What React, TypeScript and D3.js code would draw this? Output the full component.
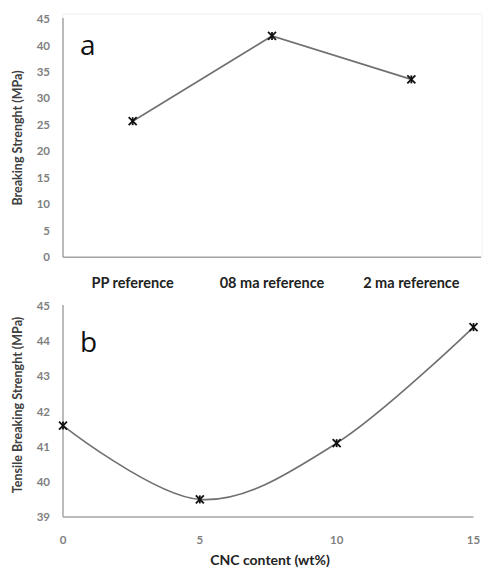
import React from "react";
import * as d3 from "d3";

const categoriesA = ["PP reference", "08 ma reference", "2 ma reference"];
const valuesA = [25.7, 41.8, 33.6];
const ticksA = [0, 5, 10, 15, 20, 25, 30, 35, 40, 45];

const cncContent = [0, 5, 10, 15];
const valuesB = [41.6, 39.5, 41.1, 44.4];
const ticksBY = [39, 40, 41, 42, 43, 44, 45];
const ticksBX = [0, 5, 10, 15];

const FONT = "Lato, 'Open Sans', sans-serif";

function Star({ x, y }: { x: number; y: number }) {
  const s = 4;
  return (
    <g stroke="#111" strokeWidth={1.8}>
      <line x1={x - s} y1={y - s} x2={x + s} y2={y + s} />
      <line x1={x - s} y1={y + s} x2={x + s} y2={y - s} />
      <line x1={x} y1={y - s} x2={x} y2={y + s} />
    </g>
  );
}

export default function App() {
  // Chart a
  const xA = d3.scaleBand<string>().domain(categoriesA).range([63, 481]);
  const yA = d3.scaleLinear().domain([0, 45]).range([257.3, 19]);
  const lineA = d3
    .line<number>()
    .x((_, i) => (xA(categoriesA[i]) as number) + xA.bandwidth() / 2)
    .y((d) => yA(d));

  // Chart b
  const xB = d3.scaleLinear().domain([0, 15]).range([63, 473.5]);
  const yB = d3.scaleLinear().domain([39, 45]).range([517, 306]);
  const lineB = d3
    .line<number>()
    .x((_, i) => xB(cncContent[i]))
    .y((d) => yB(d))
    .curve(d3.curveCatmullRom.alpha(0));

  return (
    <svg
      width={486}
      height={569}
      style={{ position: "absolute", left: 0, top: 0, background: "#fff" }}
      fontFamily={FONT}
    >
      <rect x={0} y={0} width={486} height={569} fill="#fff" />
      {/* Chart a */}
      <rect x={63} y={14} width={419} height={243} fill="none" stroke="#f0f0f0" strokeWidth={1} />
      <line x1={63} y1={18} x2={63} y2={257.3} stroke="#a6a6a6" strokeWidth={1.5} />
      <line x1={63} y1={257.3} x2={481} y2={257.3} stroke="#a6a6a6" strokeWidth={1.5} />
      {ticksA.map((t) => (
        <text key={t} x={50} y={yA(t)} dy="0.35em" textAnchor="end" fontSize={11.5} fontWeight={700} fill="#808080">
          {t}
        </text>
      ))}
      {categoriesA.map((c) => (
        <text
          key={c}
          x={(xA(c) as number) + xA.bandwidth() / 2}
          y={283}
          dy="0.35em"
          textAnchor="middle"
          fontSize={14.5}
          fontWeight={700}
          fill="#222"
        >
          {c}
        </text>
      ))}
      <text
        transform={`translate(18,138) rotate(-90)`}
        textAnchor="middle"
        dy="0.35em"
        fontSize={12.5}
        fontWeight={700}
        fill="#404040"
      >
        Breaking Strenght (MPa)
      </text>
      <text x={80} y={55} fontSize={28} fill="#111" fontFamily="'Open Sans', sans-serif">
        a
      </text>
      <path d={lineA(valuesA) || ""} fill="none" stroke="#707070" strokeWidth={1.6} />
      {valuesA.map((v, i) => (
        <Star key={i} x={(xA(categoriesA[i]) as number) + xA.bandwidth() / 2} y={yA(v)} />
      ))}

      {/* Chart b */}
      <line x1={63} y1={305} x2={63} y2={517} stroke="#a6a6a6" strokeWidth={1.5} />
      <line x1={63} y1={517} x2={473.5} y2={517} stroke="#a6a6a6" strokeWidth={1.5} />
      {ticksBY.map((t) => (
        <text key={t} x={50} y={yB(t)} dy="0.35em" textAnchor="end" fontSize={11.5} fontWeight={700} fill="#808080">
          {t}
        </text>
      ))}
      {ticksBX.map((t) => (
        <text key={t} x={xB(t)} y={540} dy="0.35em" textAnchor="middle" fontSize={11.5} fontWeight={700} fill="#808080">
          {t}
        </text>
      ))}
      <text x={270} y={565} textAnchor="middle" fontSize={14} fontWeight={700} fill="#222">
        CNC content (wt%)
      </text>
      <text
        transform={`translate(18,405) rotate(-90)`}
        textAnchor="middle"
        dy="0.35em"
        fontSize={12.5}
        fontWeight={700}
        fill="#404040"
      >
        Tensile Breaking Strenght (MPa)
      </text>
      <text x={80} y={352} fontSize={28} fill="#111" fontFamily="'Open Sans', sans-serif">
        b
      </text>
      <path d={lineB(valuesB) || ""} fill="none" stroke="#707070" strokeWidth={1.6} />
      {valuesB.map((v, i) => (
        <Star key={i} x={xB(cncContent[i])} y={yB(v)} />
      ))}
    </svg>
  );
}
